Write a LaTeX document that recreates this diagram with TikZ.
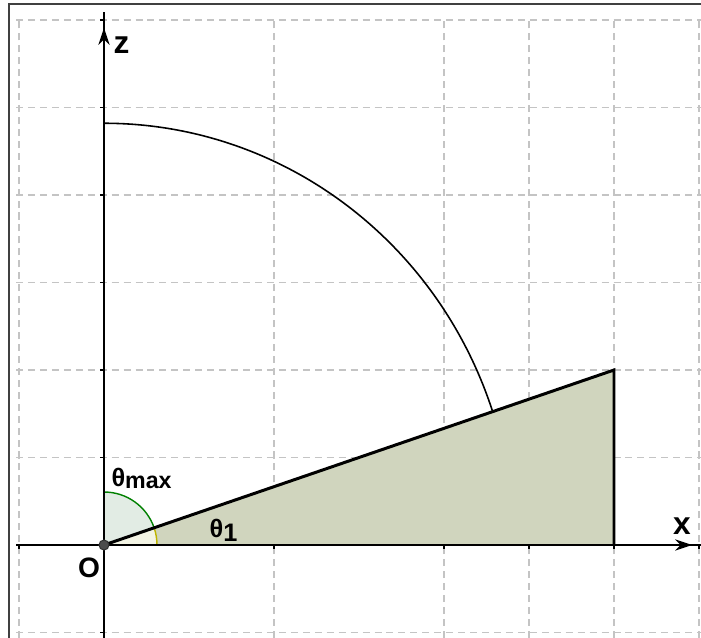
\documentclass[tikz,border=0pt]{standalone}
\usepackage{fontspec}
\setmainfont{Liberation Sans}
\usetikzlibrary{arrows.meta}
\definecolor{gridgray}{RGB}{196,196,196}
\definecolor{wedgefill}{RGB}{208,213,190}
\definecolor{maxfill}{RGB}{226,236,228}
\definecolor{onefill}{RGB}{243,244,228}
\definecolor{arcgreen}{RGB}{0,128,0}
\definecolor{arcolive}{RGB}{190,180,0}

\begin{document}
\begin{tikzpicture}[x=0.85cm, y=0.875cm,
  gridline/.style={gridgray, line width=0.45pt, dash pattern=on 2pt off 1.4pt},
  axis/.style={line width=0.5pt},
  lab/.style={font=\bfseries\fontsize{9}{10}\selectfont, inner sep=0pt},
  anglab/.style={font=\bfseries\fontsize{7.2}{8}\selectfont, inner sep=0pt, anchor=base west},
  >={Stealth[length=4.8pt,width=3.2pt]}]
\useasboundingbox (-1.2235,-1.0514) rectangle (7.0235,6.2286);
\coordinate (o) at (0,0);
\coordinate (p) at (6,2);
\coordinate (q) at (6,0);
\coordinate (top) at (0,4.82);
\foreach \z in {-1,1,2,3,4,5,6} \draw[gridline] (-1.035,\z) -- (7.03,\z);
\foreach \x in {-1,2,4,5,6,7} \draw[gridline] (\x,-1.06) -- (\x,6);
\draw[line width=0.6pt, black!75] (-1.1176,-1.06) -- (-1.1176,6.183) -- (7.03,6.183);
\fill[wedgefill] (o) -- (p) -- (q) -- cycle;
\filldraw[fill=maxfill, draw=arcgreen, line width=0.4pt]
  (o) -- ++(18.94:0.53cm) arc[start angle=18.94, end angle=90, radius=0.53cm] -- cycle;
\filldraw[fill=onefill, draw=arcolive, line width=0.4pt]
  (o) -- ++(0:0.53cm) arc[start angle=0, end angle=18.94, radius=0.53cm] -- cycle;
\draw[line width=0.45pt] (top) arc[start angle=90, end angle=18.435, x radius=4.097cm, y radius=4.2175cm];
\draw[axis] (-1.035,0) -- (7.03,0);
\draw[axis,->] (6.7,0) -- (6.918,0);
\draw[axis] (0,-1.06) -- (0,6.09);
\draw[axis,->] (0,5.7) -- (0,5.909);
\foreach \x in {-1,2,4,5,6,7} \draw[axis] (\x,0) -- (\x,-0.05);
\foreach \z in {-1,1,2,3,4,5,6} \draw[axis] (0,\z) -- (-0.05,\z);
\draw[line width=0.85pt] (o) -- (p) -- (q);
\filldraw[fill=black!70, draw=black!80, line width=0.3pt] (o) circle[radius=0.05cm];
\node[lab] (zlab) at (0.206,5.714) {z};
\node[lab] (xlab) at (6.8,0.217) {x};
\node[font=\bfseries\fontsize{8}{9}\selectfont, inner sep=0pt] (olab) at (-0.176,-0.263) {O};
\node[anglab] (tmax) at (0.08,0.674) {θ\raisebox{-0.8pt}{\fontsize{6.6}{7}\selectfont max}};
\node[anglab] (tone) at (1.235,0.091) {θ\raisebox{-1.2pt}{1}};
\end{tikzpicture}
\end{document}
